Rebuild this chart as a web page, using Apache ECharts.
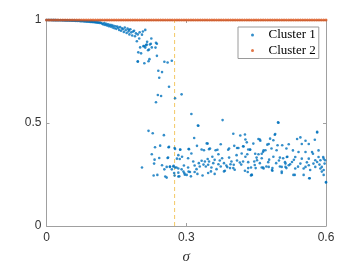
<!DOCTYPE html>
<html><head><meta charset="utf-8">
<script src="https://cdn.jsdelivr.net/npm/echarts@6/dist/echarts.min.js"></script>
<style>html,body{margin:0;padding:0;background:#fff}#c{width:360px;height:270px}</style>
</head><body><div id="c"></div>
<script>
const seriesNames = ['Cluster 1', 'Cluster 2'];
const xTicks = [0, 0.3, 0.6];
const yTicks = [0, 0.5, 1];
const thresholdSigma = 0.275;
const cluster2Level = 1;
const cluster2Sigma = [0,0.005,0.01,0.015,0.02,0.025,0.03,0.035,0.04,0.045,0.05,0.055,0.06,0.065,0.07,0.075,0.08,0.085,0.09,0.095,
0.1,0.105,0.11,0.115,0.12,0.125,0.13,0.135,0.14,0.145,0.15,0.155,0.16,0.165,0.17,0.175,0.18,0.185,0.19,0.195,
0.2,0.205,0.21,0.215,0.22,0.225,0.23,0.235,0.24,0.245,0.25,0.255,0.26,0.265,0.27,0.275,0.28,0.285,0.29,0.295,
0.3,0.305,0.31,0.315,0.32,0.325,0.33,0.335,0.34,0.345,0.35,0.355,0.36,0.365,0.37,0.375,0.38,0.385,0.39,0.395,
0.4,0.405,0.41,0.415,0.42,0.425,0.43,0.435,0.44,0.445,0.45,0.455,0.46,0.465,0.47,0.475,0.48,0.485,0.49,0.495,
0.5,0.505,0.51,0.515,0.52,0.525,0.53,0.535,0.54,0.545,0.55,0.555,0.56,0.565,0.57,0.575,0.58,0.585,0.59,0.595,0.6];

const cluster1Top = [
[0.000,.9998],[0.002,.9997],[0.004,.9998],[0.006,.9996],[0.008,.9997],[0.010,.9995],[0.012,.9996],[0.014,.9993],[0.016,.9995],[0.018,.9992],
[0.020,.9993],[0.022,.9990],[0.024,.9992],[0.026,.9988],[0.028,.9990],[0.030,.9986],[0.032,.9988],[0.034,.9983],[0.036,.9986],[0.038,.9980],
[0.040,.9984],[0.042,.9978],[0.044,.9981],[0.046,.9975],[0.048,.9979],[0.050,.9971],[0.052,.9976],[0.054,.9967],[0.056,.9972],[0.058,.9963],
[0.060,.9968],[0.062,.9958],[0.064,.9965],[0.066,.9953],[0.068,.9960],[0.070,.9948],[0.072,.9956],[0.074,.9942],[0.076,.9951],[0.078,.9936],
[0.080,.9946],[0.082,.9930],[0.084,.9940],[0.086,.9923],[0.088,.9934],[0.090,.9915],[0.092,.9928],[0.094,.9907],[0.096,.9921],[0.098,.9898],
[0.100,.9913],[0.102,.9888],[0.104,.9905],[0.106,.9878],[0.108,.9896],[0.110,.9866],[0.112,.9887],[0.114,.9853],[0.116,.9877],[0.118,.9840]
];
const cluster1Decline = [
[0.120,.982],[0.122,.978],[0.124,.985],[0.126,.976],[0.128,.981],[0.130,.973],[0.132,.979],[0.134,.970],[0.136,.977],[0.138,.968],
[0.140,.975],[0.142,.964],[0.144,.972],[0.146,.960],[0.148,.970],[0.150,.957],[0.152,.968],[0.154,.962],[0.156,.952],[0.158,.966],
[0.160,.948],[0.162,.960],[0.164,.955],[0.166,.942],[0.168,.963],[0.170,.950],[0.172,.937],[0.174,.958],[0.176,.944],[0.177,.952],
[0.178,.930],[0.180,.955],[0.182,.940],[0.184,.925],[0.186,.944],[0.188,.948],[0.190,.921],[0.192,.935],[0.194,.897],[0.196,.930],
[0.197,.843],[0.196,.800],[0.199,.910],[0.200,.940],[0.201,.867],[0.203,.838],[0.205,.929],[0.207,.944],[0.208,.873],[0.210,.873],
[0.210,.790],[0.212,.952],[0.212,.866],[0.215,.881],[0.214,.878],[0.216,.894],[0.218,.853],[0.219,.800],[0.220,.857],[0.221,.810],
[0.222,.881],[0.225,.910],[0.224,.885],[0.226,.867],[0.235,.889],[0.234,.866],[0.237,.885],[0.237,.826],[0.240,.754],[0.242,.720],
[0.248,.747],[0.253,.797],[0.260,.794],[0.263,.676],[0.269,.802],[0.239,.636],[0.246,.631],[0.235,.601],[0.276,.620],[0.290,.639],
[0.219,.462],[0.228,.450],[0.252,.441],[0.205,.284],[0.196,.797]
];
const cluster1Band = [
[0.244,.390],[0.233,.382],[0.262,.382],[0.276,.374],[0.287,.370],[0.226,.348],[0.242,.330],[0.232,.322],[0.260,.330],[0.280,.327],
[0.231,.303],[0.248,.295],[0.258,.287],[0.265,.287],[0.273,.292],[0.276,.284],[0.283,.279],[0.253,.275],[0.269,.275],[0.290,.275],
[0.230,.245],[0.238,.248],[0.255,.240],[0.258,.235],[0.275,.245],[0.283,.240],[0.296,.256],[0.301,.248],[0.305,.264],[0.283,.259],[0.294,.264],
[0.326,.487],[0.317,.427],[0.275,.379],[0.287,.371],[0.306,.373],[0.323,.389],[0.333,.371],[0.346,.400],[0.349,.373],[0.263,.384],
[0.283,.344],[0.291,.336],[0.311,.352],[0.338,.368],[0.261,.332],[0.286,.325],[0.304,.329],[0.315,.313],[0.327,.305],[0.333,.317],
[0.340,.313],[0.346,.325],[0.265,.289],[0.272,.289],[0.279,.284],[0.295,.294],[0.304,.284],[0.318,.294],[0.329,.289],[0.342,.289],
[0.347,.297],[0.274,.257],[0.285,.241],[0.297,.249],[0.308,.262],[0.318,.262],[0.324,.253],[0.335,.245],[0.347,.257],[0.310,.241],
[0.311,.544],[0.378,.514],[0.401,.448],[0.416,.439],[0.426,.444],[0.427,.420],[0.374,.397],[0.351,.376],[0.363,.368],[0.403,.389],
[0.412,.379],[0.422,.387],[0.433,.371],[0.392,.376],[0.369,.348],[0.356,.336],[0.377,.329],[0.392,.332],[0.408,.344],[0.419,.352],
[0.427,.336],[0.431,.348],[0.349,.313],[0.361,.321],[0.369,.300],[0.381,.305],[0.386,.294],[0.397,.313],[0.402,.297],[0.415,.308],
[0.422,.313],[0.354,.284],[0.365,.276],[0.374,.289],[0.394,.281],[0.404,.273],[0.433,.281],[0.353,.265],[0.381,.265],[0.401,.281],
[0.432,.262],[0.361,.253],[0.383,.268],[0.426,.268],[0.344,.401],[0.305,.374],[0.367,.370],[0.390,.370],[0.409,.379],[0.423,.386],
[0.497,.503],[0.490,.443],[0.480,.424],[0.487,.416],[0.458,.420],[0.444,.400],[0.474,.395],[0.496,.392],[0.506,.392],[0.520,.397],
[0.437,.371],[0.465,.360],[0.470,.368],[0.483,.376],[0.494,.368],[0.515,.376],[0.455,.348],[0.451,.332],[0.462,.329],[0.487,.336],
[0.501,.332],[0.508,.329],[0.517,.336],[0.433,.310],[0.446,.313],[0.458,.305],[0.476,.310],[0.493,.305],[0.512,.310],[0.523,.300],
[0.439,.284],[0.449,.281],[0.465,.284],[0.472,.289],[0.485,.281],[0.501,.289],[0.515,.281],[0.440,.249],[0.485,.268],[0.505,.257],
[0.439,.245],[0.441,.248],[0.530,.248],[0.565,.232],[0.600,.213],
[0.600,.211],[0.581,.454],[0.576,.419],[0.563,.398],[0.584,.367],[0.556,.414],[0.545,.430],[0.538,.422],[0.548,.398],[0.529,.367],
[0.541,.359],[0.556,.359],[0.570,.359],[0.594,.335],[0.598,.319],[0.588,.319],[0.581,.311],[0.573,.303],[0.563,.327],[0.548,.327],
[0.534,.335],[0.563,.295],[0.556,.287],[0.545,.303],[0.591,.287],[0.595,.272],[0.588,.279],[0.577,.287],[0.566,.272],[0.534,.279],
[0.520,.295],[0.552,.248],[0.591,.264],[0.595,.248],[0.564,.232],[0.533,.248],[0.552,.279],[0.577,.319],[0.584,.335],[0.572,.351],
[0.595,.327],[0.597,.303],[0.459,.414],[0.455,.422],[0.491,.446],[0.477,.398],[0.448,.351],[0.462,.351],[0.466,.367],[0.452,.319],
[0.466,.279],[0.477,.287],[0.484,.272],[0.462,.284],[0.505,.264],[0.513,.287],[0.505,.287],[0.513,.303],[0.527,.311],[0.516,.335],
[0.325,.488],[0.498,.501],[0.581,.457],[0.430,.406],[0.437,.370],[0.418,.298],[0.395,.300],[0.358,.305],[0.322,.276],[0.337,.298],
[0.372,.318],[0.409,.318],[0.447,.296],[0.478,.322],[0.531,.321],[0.559,.309],[0.586,.298],[0.540,.288],[0.499,.318],[0.388,.286]
];
const cluster1 = cluster1Top.concat(cluster1Decline, cluster1Band);
const cluster2 = cluster2Sigma.map(s => [s, cluster2Level]);
const thresholdLine = [[thresholdSigma, yTicks[0]], [thresholdSigma, yTicks[yTicks.length - 1]]];

const axisGray = '#a0a0a0';
const labelColor = '#333';
const chart = echarts.init(document.getElementById('c'), null, {renderer: 'canvas'});
const baseX = {
  type: 'value', min: xTicks[0], max: xTicks[xTicks.length - 1], interval: xTicks[1] - xTicks[0],
  axisLine: {show: true, onZero: false, lineStyle: {color: axisGray, width: 1}},
  axisTick: {show: true, inside: true, length: 3, lineStyle: {color: axisGray}},
  splitLine: {show: false}
};
const baseY = {
  type: 'value', min: yTicks[0], max: yTicks[yTicks.length - 1], interval: yTicks[1] - yTicks[0],
  axisLine: {show: true, onZero: false, lineStyle: {color: axisGray, width: 1}},
  axisTick: {show: true, inside: true, length: 3, lineStyle: {color: axisGray}},
  splitLine: {show: false}
};
chart.setOption({
  animation: false,
  grid: {left: 46.5, right: 34, top: 20, bottom: 39.5, containLabel: false},
  xAxis: [
    Object.assign({}, baseX, {position: 'bottom',
      axisLabel: {color: labelColor, fontSize: 12, fontFamily: 'Liberation Sans', margin: 6},
      name: 'σ', nameLocation: 'middle', nameGap: 24,
      nameTextStyle: {fontFamily: 'Liberation Serif', fontStyle: 'italic', fontSize: 15, color: labelColor}}),
    Object.assign({}, baseX, {position: 'top', axisLabel: {show: false}})
  ],
  yAxis: [
    Object.assign({}, baseY, {position: 'left',
      axisLabel: {color: labelColor, fontSize: 12, fontFamily: 'Liberation Sans', margin: 5}}),
    Object.assign({}, baseY, {position: 'right', axisLabel: {show: false}})
  ],
  legend: {
    data: seriesNames, orient: 'vertical', left: 238, top: 27,
    padding: [1, 3, 1, 13], itemGap: 1.5, itemWidth: 22, itemHeight: 3,
    borderColor: '#9a9a9a', borderWidth: 1, backgroundColor: '#fff',
    textStyle: {fontFamily: 'Liberation Serif', fontSize: 13, color: '#000', lineHeight: 14}
  },
  series: [
    {type: 'line', data: thresholdLine, symbol: 'none', silent: true, z: 1,
     lineStyle: {color: '#f3c865', width: 1, type: [4, 3]}},
    {name: seriesNames[0], type: 'scatter', data: cluster1, symbol: 'circle', symbolSize: 2.6,
     itemStyle: {color: '#0072BD'}, z: 2},
    {name: seriesNames[1], type: 'scatter', data: cluster2, symbol: 'circle', symbolSize: 3,
     itemStyle: {color: '#D95319'}, z: 3}
  ]
});
</script></body></html>
